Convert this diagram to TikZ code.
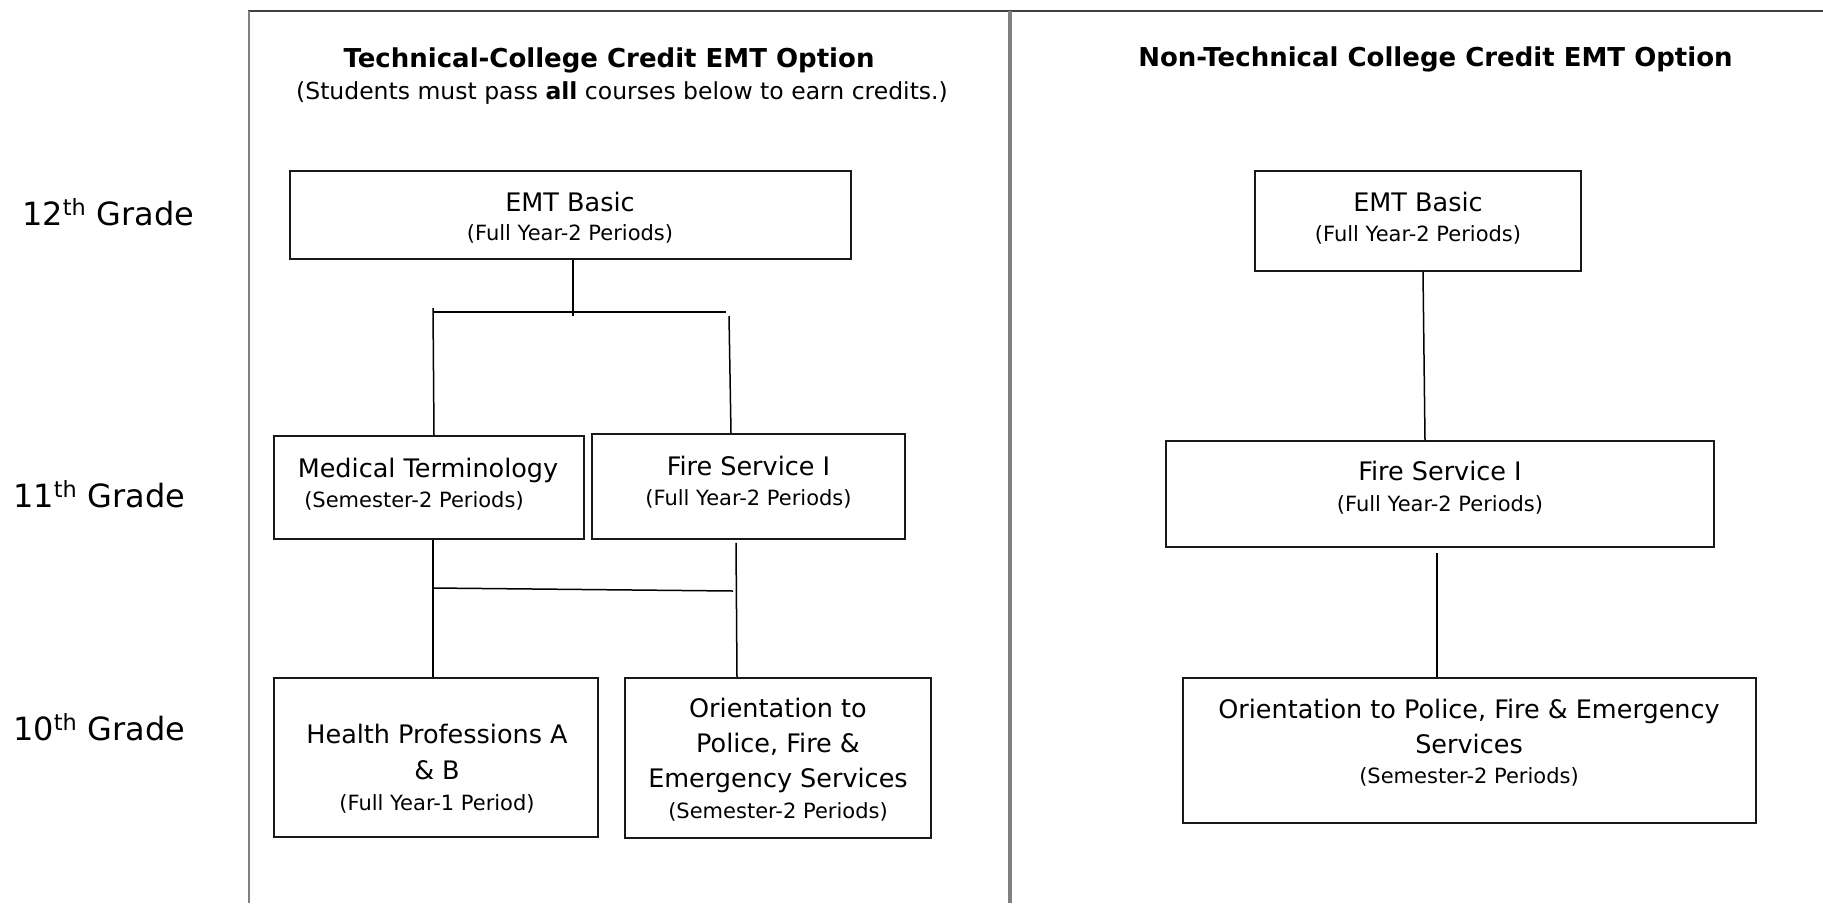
\documentclass[tikz,border=0pt]{standalone}
\usepackage{fontspec}
\setmainfont{DejaVu Sans}
\begin{document}
\begin{tikzpicture}[x=1pt,y=-1pt,
  box/.style={draw=black!90, line width=1.8pt, inner sep=0pt},
  link/.style={draw=black, line width=1.5pt},
  headtxt/.style={anchor=base, inner sep=0pt, font=\fontsize{26}{30}\selectfont\bfseries},
  subhead/.style={anchor=base, inner sep=0pt, font=\fontsize{23.5}{28}\selectfont},
  maintxt/.style={anchor=base, inner sep=0pt, font=\fontsize{25.5}{30}\selectfont},
  subtxt/.style={anchor=base, inner sep=0pt, font=\fontsize{21}{25}\selectfont},
  gradetxt/.style={anchor=base west, inner sep=0pt, font=\fontsize{32}{36}\selectfont},
]
\useasboundingbox[fill=white] (0,0) rectangle (1823,903);

% panel frame
\draw[black!75, line width=1.6pt] (248,11) -- (1823,11);
\draw[black!50, line width=2pt] (249,11) -- (249,903);
\draw[black!50, line width=4pt] (1010,11) -- (1010,903);

% grade labels
\node[gradetxt] (g12) at (22,225) {12\textsuperscript{th} Grade};
\node[gradetxt] (g11) at (13,507) {11\textsuperscript{th} Grade};
\node[gradetxt] (g10) at (13,740) {10\textsuperscript{th} Grade};

% headings
\node[headtxt] (headL) at (609,67) {Technical-College Credit EMT Option};
\node[subhead] (noteL) at (622,99) {(Students must pass \textbf{all} courses below to earn credits.)};
\node[headtxt] (headR) at (1435.5,66) {Non-Technical College Credit EMT Option};

% course boxes, left option
\node[box, minimum width=561, minimum height=88] (emtL) at (570.5,215) {};
\node[box, minimum width=310, minimum height=103] (medL) at (429,487.5) {};
\node[box, minimum width=313, minimum height=105] (fireL) at (748.5,486.5) {};
\node[box, minimum width=324, minimum height=159] (healthL) at (436,757.5) {};
\node[box, minimum width=306, minimum height=160] (orientL) at (778,758) {};

% course boxes, right option
\node[box, minimum width=326, minimum height=100] (emtR) at (1418,221) {};
\node[box, minimum width=548, minimum height=106] (fireR) at (1440,494) {};
\node[box, minimum width=573, minimum height=145] (orientR) at (1469.5,750.5) {};

% box texts, left option
\node[maintxt] (emtL-a) at (570,211) {EMT Basic};
\node[subtxt]  (emtL-b) at (570,240) {(Full Year-2 Periods)};
\node[maintxt] (medL-a) at (428,477) {Medical Terminology};
\node[subtxt]  (medL-b) at (414,507) {(Semester-2 Periods)};
\node[maintxt] (fireL-a) at (748.5,475) {Fire Service I};
\node[subtxt]  (fireL-b) at (748.5,505) {(Full Year-2 Periods)};
\node[maintxt] (healthL-a) at (437,743) {Health Professions A};
\node[maintxt] (healthL-b) at (437,779) {\& B};
\node[subtxt]  (healthL-c) at (437,810) {(Full Year-1 Period)};
\node[maintxt] (orientL-a) at (778,717) {Orientation to};
\node[maintxt] (orientL-b) at (778,752) {Police, Fire \&};
\node[maintxt] (orientL-c) at (778,787) {Emergency Services};
\node[subtxt]  (orientL-d) at (778,818) {(Semester-2 Periods)};

% box texts, right option
\node[maintxt] (emtR-a) at (1418,211) {EMT Basic};
\node[subtxt]  (emtR-b) at (1418,241) {(Full Year-2 Periods)};
\node[maintxt] (fireR-a) at (1440,480) {Fire Service I};
\node[subtxt]  (fireR-b) at (1440,511) {(Full Year-2 Periods)};
\node[maintxt] (orientR-a) at (1469,718) {Orientation to Police, Fire \& Emergency};
\node[maintxt] (orientR-b) at (1469,753) {Services};
\node[subtxt]  (orientR-c) at (1469,783) {(Semester-2 Periods)};

% connectors, left option
\coordinate (barL1) at (433,312);
\coordinate (barL2) at (726,312);
\coordinate (dropL1) at (433,308);
\coordinate (dropL2) at (729,316);
\coordinate (barM1) at (433,588);
\coordinate (barM2) at (733,591);
\draw[link] ([xshift=2.5]emtL.south) -- ++(0,56);
\draw[link] (barL1) -- (barL2);
\draw[link] (dropL1) -- ([xshift=5]medL.north);
\draw[link] (dropL2) -- ([xshift=-17.5]fireL.north);
\draw[link] ([xshift=4]medL.south) -- ([xshift=-3]healthL.north);
\draw[link] ([shift={(-12.5,3)}]fireL.south) -- ([xshift=-41]orientL.north);
\draw[link] (barM1) -- (barM2);

% connectors, right option
\draw[link] ([xshift=5]emtR.south) -- ([xshift=-15]fireR.north);
\draw[link] ([shift={(-3,5)}]fireR.south) -- ([xshift=-32.5]orientR.north);
\end{tikzpicture}
\end{document}
